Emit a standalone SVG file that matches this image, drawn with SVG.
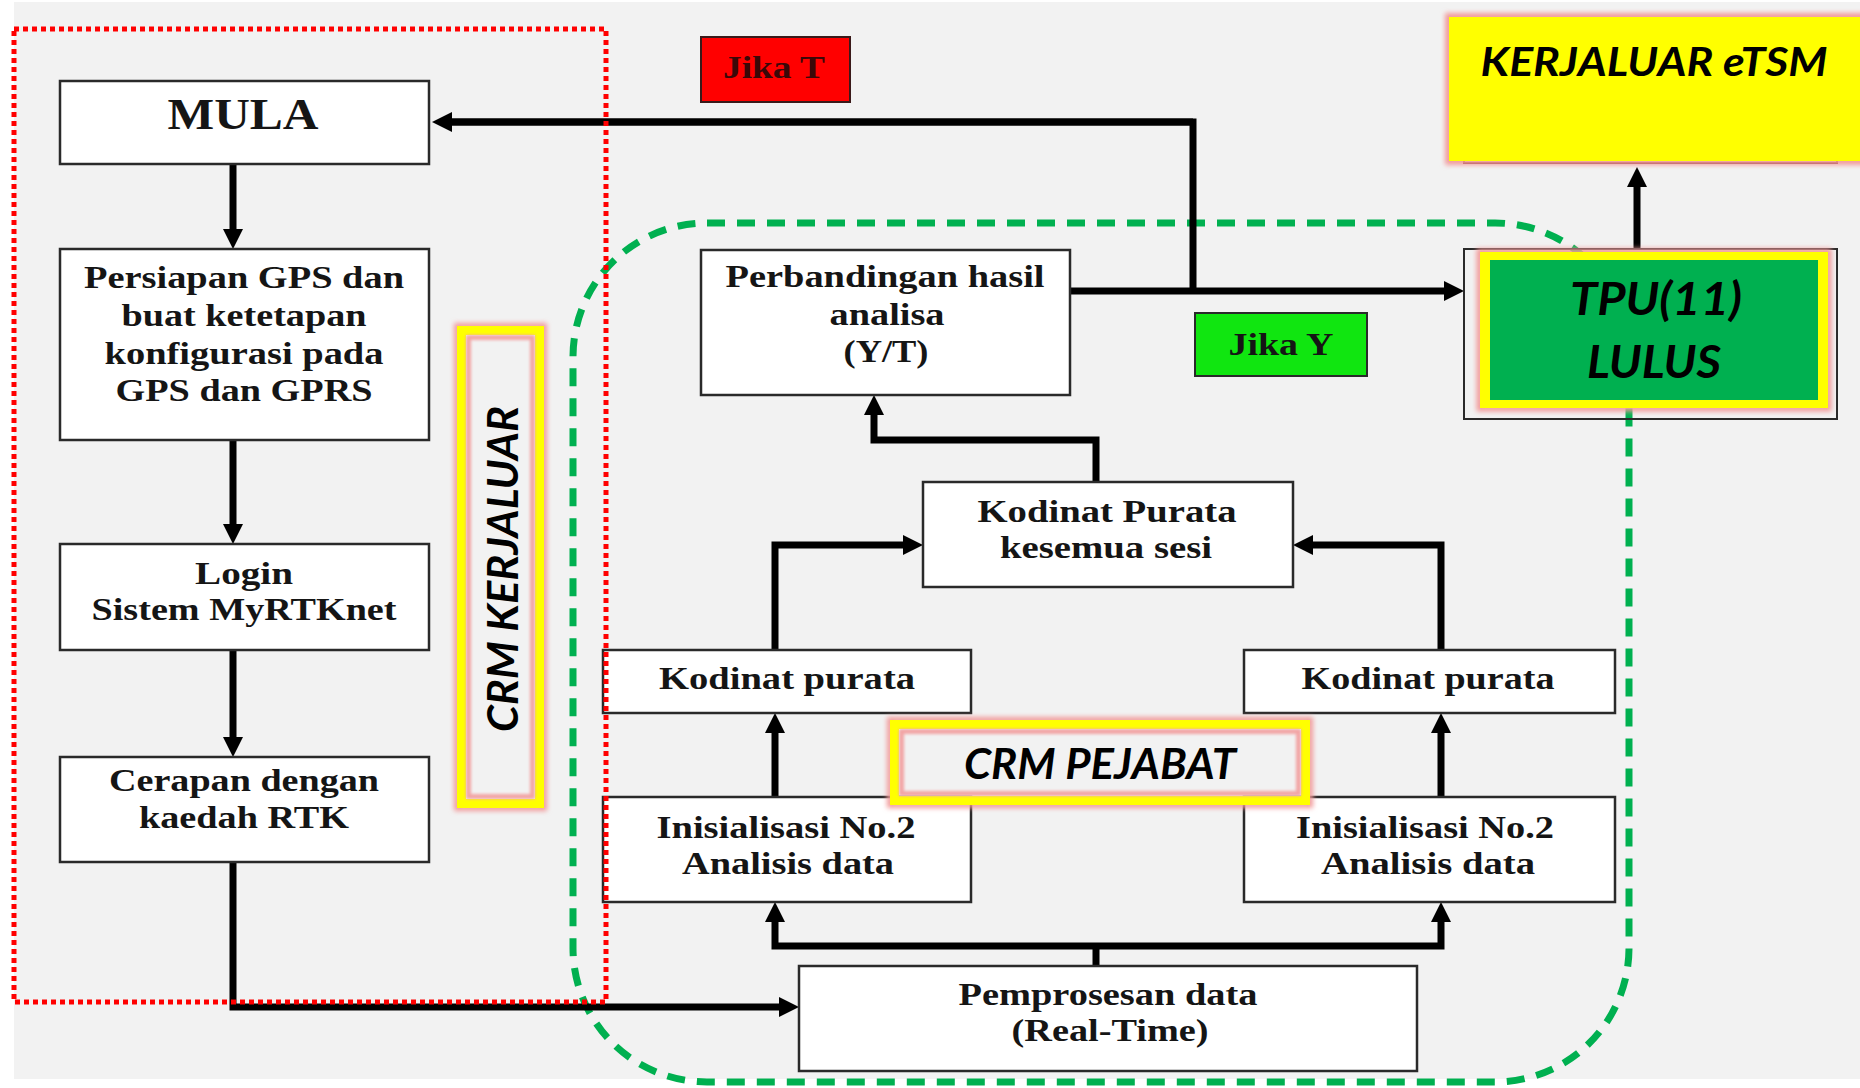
<svg xmlns="http://www.w3.org/2000/svg" width="1860" height="1088" viewBox="0 0 1860 1088">
  <defs>
    <style>
      .box { fill: #ffffff; stroke: #2a2a2a; stroke-width: 2.5; }
      .t { font-family: "Liberation Serif", "Times New Roman", serif; font-weight: bold; font-size: 32px; fill: #151515; text-anchor: middle; }
      .lab { font-family: Lato, "Liberation Sans", sans-serif; font-weight: bold; font-style: italic; fill: #000; text-anchor: middle; }
      .wire { fill: none; stroke: #000; stroke-width: 7; stroke-linejoin: miter; }
      .arrow { marker-end: url(#ah); }
      .glow { fill: none; stroke: #f29a9a; filter: url(#blur); }
      .inner { fill: none; stroke: #f2a4a4; filter: url(#blur-s); }
      .yel { fill: none; stroke: #ffff00; }
    </style>
    <marker id="ah" markerUnits="userSpaceOnUse" markerWidth="22" markerHeight="22" refX="2" refY="10" orient="auto">
      <path d="M0,0 L20,10 L0,20 z" fill="#000"/>
    </marker>
    <filter id="blur" x="-20%" y="-20%" width="140%" height="140%">
      <feGaussianBlur stdDeviation="2.5"/>
    </filter>
    <filter id="blur-s" x="-20%" y="-20%" width="140%" height="140%">
      <feGaussianBlur stdDeviation="1.5"/>
    </filter>
  </defs>

  <!-- page -->
  <rect width="1860" height="1088" fill="#ffffff"/>
  <rect x="14" y="2" width="1846" height="1077" fill="#f2f2f2"/>

  <!-- office (CRM PEJABAT) region outline -->
  <rect id="region-pejabat" x="573" y="223" width="1056" height="859" rx="134" ry="134" fill="none" stroke="#00b050" stroke-width="7" stroke-dasharray="18 12"/>

  <!-- connectors -->
  <g id="connectors">
    <path class="wire" d="M1193,293 V122 H450"/>
    <path class="wire arrow" d="M1193,122 H450"/>
    <path class="wire arrow" d="M1070,291 H1446"/>
    <path class="wire arrow" d="M233,164 V231"/>
    <path class="wire arrow" d="M233,440 V526"/>
    <path class="wire arrow" d="M233,650 V739"/>
    <path class="wire arrow" d="M233,862 V1007 H781"/>
    <path class="wire" d="M1096,966 V946"/>
    <path class="wire arrow" d="M1096,946 H775 V920"/>
    <path class="wire arrow" d="M1096,946 H1441 V920"/>
    <path class="wire arrow" d="M775,797 V731"/>
    <path class="wire arrow" d="M1441,797 V731"/>
    <path class="wire arrow" d="M775,650 V545 H905"/>
    <path class="wire arrow" d="M1441,650 V545 H1311"/>
    <path class="wire arrow" d="M1096,482 V440 H874 V413"/>
    <path class="wire arrow" d="M1637,249 V185"/>
  </g>

  <!-- left column -->
  <g id="mula">
    <rect class="box" x="60" y="81" width="369" height="83"/>
    <text class="t" x="243" y="129" style="font-size:45px" textLength="151" lengthAdjust="spacingAndGlyphs">MULA</text>
  </g>
  <g id="persiapan">
    <rect class="box" x="60" y="249" width="369" height="191"/>
    <text class="t" x="244" y="288" textLength="320" lengthAdjust="spacingAndGlyphs">Persiapan GPS dan</text>
    <text class="t" x="244" y="326" textLength="245" lengthAdjust="spacingAndGlyphs">buat ketetapan</text>
    <text class="t" x="244" y="364" textLength="279" lengthAdjust="spacingAndGlyphs">konfigurasi pada</text>
    <text class="t" x="244" y="401" textLength="257" lengthAdjust="spacingAndGlyphs">GPS dan GPRS</text>
  </g>
  <g id="login">
    <rect class="box" x="60" y="544" width="369" height="106"/>
    <text class="t" x="244" y="584" textLength="98" lengthAdjust="spacingAndGlyphs">Login</text>
    <text class="t" x="244" y="620" textLength="305" lengthAdjust="spacingAndGlyphs">Sistem MyRTKnet</text>
  </g>
  <g id="cerapan">
    <rect class="box" x="60" y="757" width="369" height="105"/>
    <text class="t" x="244" y="791" textLength="270" lengthAdjust="spacingAndGlyphs">Cerapan dengan</text>
    <text class="t" x="244" y="828" textLength="210" lengthAdjust="spacingAndGlyphs">kaedah RTK</text>
  </g>

  <!-- decision labels -->
  <g id="jika-t">
    <rect x="701" y="37" width="149" height="65" fill="#ff0000" stroke="#3a1a1a" stroke-width="2"/>
    <text class="t" x="774" y="78" style="font-size:31px;fill:#3a0808" textLength="102" lengthAdjust="spacingAndGlyphs">Jika T</text>
  </g>
  <g id="jika-y">
    <rect x="1195" y="313" width="172" height="63" fill="#10e610" stroke="#2a2a2a" stroke-width="2"/>
    <text class="t" x="1281" y="355" style="font-size:31px" textLength="105" lengthAdjust="spacingAndGlyphs">Jika Y</text>
  </g>

  <!-- office processing -->
  <g id="perbandingan">
    <rect class="box" x="701" y="250" width="369" height="145"/>
    <text class="t" x="885" y="287" textLength="319" lengthAdjust="spacingAndGlyphs">Perbandingan hasil</text>
    <text class="t" x="887" y="325" textLength="115" lengthAdjust="spacingAndGlyphs">analisa</text>
    <text class="t" x="886" y="362" textLength="85" lengthAdjust="spacingAndGlyphs">(Y/T)</text>
  </g>
  <g id="kodinat-purata-sesi">
    <rect class="box" x="923" y="482" width="370" height="105"/>
    <text class="t" x="1107" y="522" textLength="259" lengthAdjust="spacingAndGlyphs">Kodinat Purata</text>
    <text class="t" x="1106" y="558" textLength="212" lengthAdjust="spacingAndGlyphs">kesemua sesi</text>
  </g>
  <g id="kodinat-purata-1">
    <rect class="box" x="603" y="650" width="368" height="63"/>
    <text class="t" x="787" y="689" textLength="256" lengthAdjust="spacingAndGlyphs">Kodinat purata</text>
  </g>
  <g id="kodinat-purata-2">
    <rect class="box" x="1244" y="650" width="371" height="63"/>
    <text class="t" x="1428" y="689" textLength="253" lengthAdjust="spacingAndGlyphs">Kodinat purata</text>
  </g>
  <g id="inisialisasi-1">
    <rect class="box" x="603" y="797" width="368" height="105"/>
    <text class="t" x="786" y="838" textLength="259" lengthAdjust="spacingAndGlyphs">Inisialisasi No.2</text>
    <text class="t" x="788" y="874" textLength="212" lengthAdjust="spacingAndGlyphs">Analisis data</text>
  </g>
  <g id="inisialisasi-2">
    <rect class="box" x="1244" y="797" width="371" height="105"/>
    <text class="t" x="1425" y="838" textLength="258" lengthAdjust="spacingAndGlyphs">Inisialisasi No.2</text>
    <text class="t" x="1428" y="874" textLength="214" lengthAdjust="spacingAndGlyphs">Analisis data</text>
  </g>
  <g id="pemprosesan">
    <rect class="box" x="799" y="966" width="618" height="105"/>
    <text class="t" x="1108" y="1005" textLength="299" lengthAdjust="spacingAndGlyphs">Pemprosesan data</text>
    <text class="t" x="1110" y="1041" textLength="197" lengthAdjust="spacingAndGlyphs">(Real-Time)</text>
  </g>

  <!-- result boxes -->
  <g id="tpu-lulus">
    <rect x="1464" y="249" width="373" height="170" fill="none" stroke="#2a2a2a" stroke-width="2"/>
    <rect class="glow" x="1480" y="252" width="348" height="156" stroke-width="7"/>
    <rect x="1480" y="252" width="348" height="156" fill="#ffff00"/>
    <rect x="1490" y="260" width="328" height="140" fill="#00b050"/>
    <text class="lab" x="1656" y="315" font-size="46" textLength="172" lengthAdjust="spacingAndGlyphs">TPU(11)</text>
    <text class="lab" x="1654" y="378" font-size="46" textLength="134" lengthAdjust="spacingAndGlyphs">LULUS</text>
  </g>
  <g id="kerjaluar-etsm">
    <rect x="1464" y="30" width="373" height="133" fill="none" stroke="#5a1a1a" stroke-width="2"/>
    <rect class="glow" x="1449" y="17" width="420" height="144" stroke-width="8"/>
    <rect x="1449" y="17" width="420" height="144" fill="#ffff00"/>
    <text class="lab" x="1654" y="76" font-size="41" textLength="347" lengthAdjust="spacingAndGlyphs">KERJALUAR eTSM</text>
  </g>

  <!-- region labels -->
  <g id="crm-kerjaluar">
    <rect class="glow" x="457" y="326" width="87" height="482" stroke-width="6"/>
    <rect class="yel" x="461.5" y="330.5" width="78" height="473" stroke-width="9"/>
    <rect class="inner" x="468.5" y="337.5" width="64" height="459" stroke-width="5"/>
    <text class="lab" transform="translate(518,569) rotate(-90)" x="0" y="0" font-size="42" textLength="326" lengthAdjust="spacingAndGlyphs">CRM KERJALUAR</text>
  </g>
  <g id="crm-pejabat">
    <rect class="glow" x="890" y="720" width="420" height="85" stroke-width="6"/>
    <rect class="yel" x="894.5" y="724.5" width="411" height="76" stroke-width="9"/>
    <rect class="inner" x="901.5" y="731.5" width="397" height="62" stroke-width="5"/>
    <text class="lab" x="1100" y="779" font-size="42" textLength="272" lengthAdjust="spacingAndGlyphs">CRM PEJABAT</text>
  </g>

  <!-- field (CRM KERJALUAR) region outline -->
  <rect id="region-kerjaluar" x="14" y="29" width="592" height="973" fill="none" stroke="#ff0000" stroke-width="5" stroke-dasharray="5 4"/>
</svg>
